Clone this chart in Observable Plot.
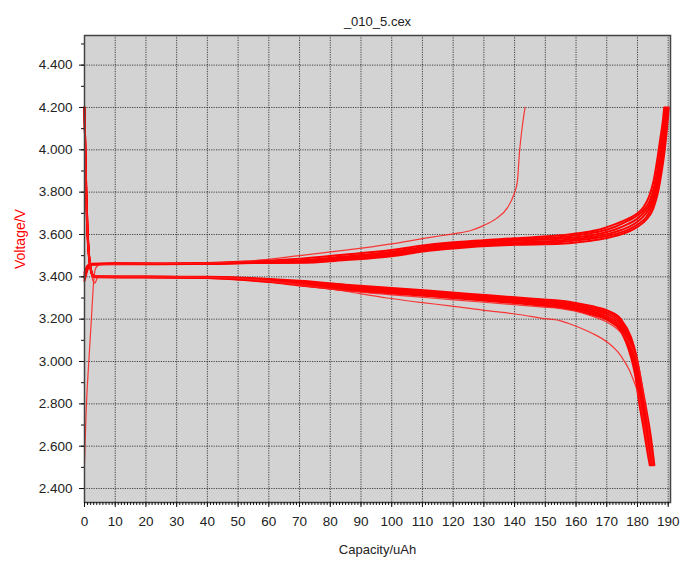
<!DOCTYPE html>
<html>
<head>
<meta charset="utf-8">
<script src="https://cdn.jsdelivr.net/npm/d3@7"></script>
<script src="https://cdn.jsdelivr.net/npm/@observablehq/plot@0.6"></script>
<style>
  html, body { margin: 0; padding: 0; background: #fff; }
  #chart svg { display: block; }
</style>
</head>
<body>
<div id="chart"></div>
<script>
const title = "_010_5.cex";
const xLabel = "Capacity/uAh";
const yLabel = "Voltage/V";
const xTicks = [0,10,20,30,40,50,60,70,80,90,100,110,120,130,140,150,160,170,180,190];
const yTicks = [2.4,2.6,2.8,3.0,3.2,3.4,3.6,3.8,4.0,4.2,4.4];

// first charge (thin, ends early)
const charge1 = [[0,2.52],[0.5,2.75],[1.4,3.0],[2.2,3.19],[3,3.38],[3.6,3.44],[5,3.458],[20,3.462],[40,3.465],[55,3.476],[70,3.5],[85,3.526],[100,3.556],[112,3.585],[116,3.594],[121,3.605],[126,3.62],[130,3.643],[134,3.675],[137.7,3.727],[139.8,3.79],[140.9,3.85],[141.6,3.99],[142.6,4.12],[143.4,4.2]];
// charge bundle
const chargeA = [[0,3.42],[0.8,3.45],[2,3.462],[10,3.464],[25,3.463],[40,3.465],[55,3.474],[70,3.486],[85,3.506],[100,3.527],[112,3.552],[125,3.568],[140,3.582],[155,3.596],[162,3.608],[168,3.625],[173,3.65],[177,3.675],[180,3.7],[182,3.73],[183.8,3.78],[185.2,3.85],[186.4,3.95],[187.4,4.05],[188.2,4.13],[188.7,4.2]];
const chargeB = [[0,3.4],[1,3.445],[2.3,3.46],[10,3.463],[25,3.462],[40,3.464],[55,3.47],[70,3.478],[85,3.497],[100,3.518],[112,3.545],[125,3.562],[140,3.576],[155,3.588],[162,3.6],[168,3.615],[173,3.638],[177,3.665],[180,3.69],[182,3.715],[184,3.76],[185.5,3.83],[186.7,3.93],[187.7,4.03],[188.5,4.12],[189,4.2]];
const chargeC = [[0,3.38],[1.2,3.44],[2.5,3.458],[10,3.462],[25,3.462],[40,3.463],[55,3.469],[70,3.475],[85,3.492],[100,3.512],[112,3.538],[125,3.556],[140,3.57],[155,3.58],[162,3.59],[168,3.605],[173,3.625],[177,3.65],[180,3.675],[182.5,3.71],[184.3,3.75],[185.8,3.82],[187,3.92],[188,4.02],[188.8,4.12],[189.3,4.2]];
const chargeD = [[0,3.39],[1,3.44],[2.4,3.46],[10,3.462],[25,3.461],[40,3.462],[55,3.467],[70,3.472],[85,3.487],[100,3.507],[112,3.532],[125,3.55],[140,3.563],[155,3.572],[162,3.582],[168,3.595],[173,3.613],[177,3.635],[180,3.66],[182.5,3.695],[184.5,3.74],[186,3.81],[187.2,3.91],[188.2,4.01],[189,4.11],[189.6,4.2]];
const chargeE = [[0,3.41],[0.9,3.447],[2.2,3.46],[10,3.461],[25,3.461],[40,3.462],[55,3.466],[70,3.469],[85,3.483],[100,3.502],[112,3.527],[125,3.545],[140,3.557],[155,3.565],[162,3.575],[168,3.587],[173,3.603],[177,3.623],[180,3.647],[183,3.685],[185,3.74],[186.4,3.81],[187.5,3.9],[188.5,4.0],[189.3,4.1],[189.9,4.2]];
const chargeF = [[0,3.4],[1.1,3.442],[2.4,3.458],[10,3.46],[25,3.46],[40,3.461],[55,3.465],[70,3.466],[85,3.479],[100,3.497],[112,3.523],[125,3.54],[140,3.551],[155,3.556],[162,3.566],[168,3.578],[173,3.594],[177,3.613],[180,3.636],[183,3.672],[185.2,3.725],[186.7,3.8],[187.8,3.89],[188.8,3.99],[189.6,4.1],[190.2,4.2]];

// first discharges (thin, lower)
const discharge1 = [[0,4.2],[0.2,4.0],[0.5,3.8],[1.1,3.58],[2,3.45],[2.8,3.38],[3.4,3.37],[4.2,3.395],[6,3.4],[20,3.4],[40,3.398],[50,3.392],[60,3.38],[70,3.365],[85,3.332],[98.6,3.3],[110,3.278],[119,3.263],[131,3.24],[142,3.221],[148.5,3.205],[155,3.192],[159.4,3.17],[165,3.135],[170.3,3.09],[174.6,3.027],[177.5,2.955],[179,2.9],[180.2,2.85],[181.5,2.76],[183,2.63],[184.2,2.52]];
const discharge2 = [[0,4.2],[0.3,3.96],[0.6,3.78],[1,3.6],[1.5,3.49],[2,3.44],[2.6,3.41],[3.5,3.4],[20,3.4],[40,3.399],[55,3.388],[70,3.36],[85,3.335],[100,3.315],[112.7,3.3],[130,3.28],[148.5,3.258],[155,3.25],[159.4,3.239],[165,3.215],[170.3,3.184],[174.6,3.137],[177,3.095],[179,3.04],[180.5,2.97],[182,2.84],[183.5,2.69],[184.6,2.56],[185,2.51]];
// discharge bundle
const dischargeA = [[0,4.2],[0.3,3.97],[0.6,3.79],[1,3.62],[1.5,3.5],[2,3.445],[2.6,3.412],[3.5,3.402],[20,3.401],[40,3.4],[50,3.397],[60,3.39],[70,3.381],[85,3.363],[100,3.347],[112.7,3.334],[126.8,3.318],[140,3.303],[148.5,3.294],[155,3.287],[159.4,3.278],[165,3.262],[170.3,3.24],[174.6,3.2],[177.9,3.115],[179.6,3.03],[181.3,2.9],[182.8,2.78],[184.3,2.65],[185.5,2.51]];
const dischargeB = [[0,4.2],[0.25,4.0],[0.5,3.83],[0.9,3.64],[1.4,3.51],[2,3.443],[2.6,3.41],[3.5,3.401],[20,3.4],[40,3.399],[50,3.395],[60,3.387],[70,3.376],[85,3.357],[100,3.341],[112.7,3.328],[126.8,3.312],[140,3.297],[148.5,3.287],[155,3.28],[159.4,3.271],[165,3.254],[170.3,3.231],[174.6,3.19],[177.9,3.095],[179.6,3.005],[181.2,2.875],[182.6,2.76],[184.1,2.63],[185.2,2.51]];
const dischargeC = [[0,4.2],[0.3,3.98],[0.6,3.8],[1,3.62],[1.5,3.5],[2,3.44],[2.6,3.408],[3.5,3.4],[20,3.4],[40,3.398],[50,3.393],[60,3.384],[70,3.372],[85,3.352],[100,3.336],[112.7,3.323],[126.8,3.307],[140,3.292],[148.5,3.281],[155,3.273],[159.4,3.264],[165,3.246],[170.3,3.222],[174.6,3.178],[177.9,3.075],[179.5,2.985],[181.1,2.85],[182.5,2.735],[184,2.605],[184.9,2.51]];
const dischargeD = [[0,4.2],[0.2,4.03],[0.5,3.82],[0.9,3.63],[1.4,3.505],[2,3.44],[2.6,3.408],[3.5,3.4],[20,3.399],[40,3.397],[50,3.391],[60,3.381],[70,3.368],[85,3.347],[100,3.331],[112.7,3.318],[126.8,3.302],[140,3.287],[148.5,3.276],[155,3.267],[159.4,3.257],[165,3.238],[170.3,3.212],[174.6,3.165],[177.9,3.055],[179.4,2.97],[181,2.83],[182.3,2.72],[183.8,2.59],[184.6,2.51]];
const dischargeE = [[0,4.2],[0.3,3.97],[0.6,3.8],[1,3.61],[1.5,3.495],[2,3.438],[2.6,3.406],[3.5,3.399],[20,3.398],[40,3.396],[50,3.389],[60,3.378],[70,3.364],[85,3.342],[100,3.326],[112.7,3.313],[126.8,3.297],[140,3.281],[148.5,3.27],[155,3.261],[159.4,3.25],[165,3.23],[170.3,3.203],[174.6,3.153],[177.9,3.035],[179.3,2.955],[180.8,2.815],[182.1,2.705],[183.5,2.58],[184.3,2.51]];
const dischargeF = [[0,4.2],[0.25,4.0],[0.5,3.81],[0.9,3.62],[1.4,3.5],[2,3.437],[2.6,3.405],[3.5,3.398],[20,3.397],[40,3.395],[50,3.387],[60,3.375],[70,3.359],[85,3.337],[100,3.321],[112.7,3.308],[126.8,3.292],[140,3.276],[148.5,3.264],[155,3.255],[159.4,3.244],[165,3.222],[170.3,3.195],[174.6,3.142],[177.9,3.02],[179.2,2.94],[180.6,2.8],[181.9,2.69],[183.2,2.575],[184,2.51]];

const thinCurves = {charge1, discharge1, discharge2};
const bundleCurves = {chargeA, chargeB, chargeC, chargeD, chargeE, chargeF,
  dischargeA, dischargeB, dischargeC, dischargeD, dischargeE, dischargeF};

const toRows = (obj) => Object.entries(obj).flatMap(([name, pts]) =>
  pts.map(([c, v]) => ({cycle: name, cap: c, volt: v})));
const thinRows = toRows(thinCurves);
const bundleRows = toRows(bundleCurves);

const minorX = d3.range(0, 191, 1);
const minorY = d3.range(2.4, 4.55, 0.1).map(v => +v.toFixed(1));

const chart = Plot.plot({
  width: 687,
  height: 563,
  marginLeft: 84,
  marginRight: 17,
  marginTop: 35,
  marginBottom: 61,
  style: {fontFamily: "'Liberation Sans', Arial, sans-serif", fontSize: "13.5px", background: "#fff", color: "#222"},
  x: {domain: [0, 190.75]},
  y: {domain: [2.334, 4.54]},
  marks: [
    Plot.frame({fill: "#d3d3d3", stroke: null}),
    Plot.gridX(xTicks, {stroke: "#111", strokeOpacity: 0.75, strokeDasharray: "1.2,1.2"}),
    Plot.gridY(yTicks, {stroke: "#111", strokeOpacity: 0.75, strokeDasharray: "1.2,1.2"}),
    Plot.line(bundleRows, {x: "cap", y: "volt", z: "cycle", stroke: "#ff0000", strokeWidth: 2, curve: "monotone-x"}),
    Plot.line(thinRows, {x: "cap", y: "volt", z: "cycle", stroke: "#ff1a1a", strokeWidth: 1.2, strokeOpacity: 0.85, curve: "monotone-x"}),
    Plot.frame({stroke: "#444", strokeWidth: 1.5}),
    Plot.axisX(minorX, {tickSize: 3, tickFormat: () => "", label: null, stroke: "#111"}),
    Plot.axisX(xTicks, {tickSize: 5, tickPadding: 9, label: null, stroke: "#111", fill: "#222"}),
    Plot.axisY(minorY, {tickSize: 3, tickFormat: () => "", label: null, stroke: "#111"}),
    Plot.axisY(yTicks, {tickSize: 5, tickPadding: 7, tickFormat: d3.format(".3f"), label: null, stroke: "#111", fill: "#222"}),
    Plot.text([title], {frameAnchor: "top", dy: -19, fill: "#222", fontSize: 13}),
    Plot.text([xLabel], {frameAnchor: "bottom", dy: 51, fill: "#222", fontSize: 13}),
    Plot.text([yLabel], {frameAnchor: "left", dx: -64, rotate: -90, fill: "#ff0000", fontSize: 14})
  ]
});
document.getElementById("chart").appendChild(chart);
</script>
</body>
</html>
